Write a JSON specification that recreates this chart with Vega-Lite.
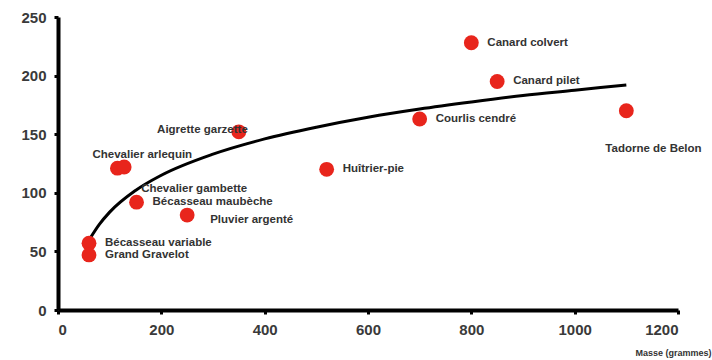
{
  "$schema": "https://vega.github.io/schema/vega-lite/v6.json",
  "width": 620,
  "height": 293,
  "autosize": {"type": "none"},
  "padding": {"left": 58, "top": 17, "right": 34, "bottom": 50},
  "background": "white",
  "config": {
    "view": {"stroke": null},
    "font": "Liberation Sans",
    "axis": {
      "grid": false,
      "domainColor": "black",
      "domainWidth": 4,
      "tickColor": "black",
      "tickWidth": 3,
      "tickSize": 4,
      "labelFont": "Liberation Sans",
      "labelFontSize": 15,
      "labelFontWeight": "bold",
      "labelColor": "#3a3a3a"
    }
  },
  "datasets": {
    "birds": [
      {"nom": "Canard colvert", "masse": 800, "valeur": 228, "pos": "right"},
      {"nom": "Canard pilet", "masse": 850, "valeur": 195, "pos": "right"},
      {"nom": "Courlis cendré", "masse": 700, "valeur": 163, "pos": "right"},
      {"nom": "Tadorne de Belon", "masse": 1100, "valeur": 170, "pos": "below"},
      {"nom": "Huîtrier-pie", "masse": 520, "valeur": 120, "pos": "right"},
      {"nom": "Aigrette garzette", "masse": 350, "valeur": 152, "pos": "left"},
      {"nom": "Chevalier arlequin", "masse": 115, "valeur": 121, "pos": "above"},
      {"nom": "Chevalier gambette", "masse": 128, "valeur": 122, "pos": "gambette"},
      {"nom": "Bécasseau maubèche", "masse": 152, "valeur": 92, "pos": "right"},
      {"nom": "Pluvier argenté", "masse": 250, "valeur": 81, "pos": "pluvier"},
      {"nom": "Bécasseau variable", "masse": 60, "valeur": 57, "pos": "right"},
      {"nom": "Grand Gravelot", "masse": 60, "valeur": 47, "pos": "right"}
    ],
    "courbe": [
      {"masse": 62, "valeur": 61},
      {"masse": 80, "valeur": 73},
      {"masse": 100, "valeur": 83.5},
      {"masse": 150, "valeur": 102},
      {"masse": 200, "valeur": 115},
      {"masse": 300, "valeur": 133},
      {"masse": 400, "valeur": 146},
      {"masse": 500, "valeur": 156},
      {"masse": 600, "valeur": 164.5},
      {"masse": 700, "valeur": 171.5},
      {"masse": 800, "valeur": 177.5},
      {"masse": 900, "valeur": 183},
      {"masse": 1000, "valeur": 187.5},
      {"masse": 1100, "valeur": 192}
    ]
  },
  "encoding": {
    "x": {
      "field": "masse",
      "type": "quantitative",
      "scale": {"domain": [0, 1200], "nice": false},
      "axis": {
        "values": [0, 200, 400, 600, 800, 1000, 1200],
        "format": "d",
        "labelPadding": 8,
        "title": "Masse (grammes)",
        "titleFontSize": 9,
        "titleFontWeight": "bold",
        "titleColor": "#333333",
        "titleX": 653,
        "titleY": 42,
        "titleAlign": "right",
        "titleBaseline": "middle"
      }
    },
    "y": {
      "field": "valeur",
      "type": "quantitative",
      "scale": {"domain": [0, 250], "nice": false},
      "axis": {"values": [0, 50, 100, 150, 200, 250], "format": "d", "labelPadding": 8, "title": null}
    }
  },
  "layer": [
    {
      "data": {"name": "courbe"},
      "mark": {"type": "line", "color": "black", "strokeWidth": 3, "interpolate": "monotone"}
    },
    {
      "data": {"name": "birds"},
      "mark": {"type": "circle", "color": "#e8251c", "opacity": 1, "size": 220}
    },
    {
      "data": {"name": "birds"},
      "transform": [{"filter": "datum.pos === 'right'"}],
      "mark": {"type": "text", "align": "left", "baseline": "middle", "dx": 16, "fontSize": 11.5, "fontWeight": "bold", "color": "#333333"},
      "encoding": {"text": {"field": "nom"}}
    },
    {
      "data": {"name": "birds"},
      "transform": [{"filter": "datum.pos === 'left'"}],
      "mark": {"type": "text", "align": "right", "baseline": "middle", "dx": 9, "dy": -2, "fontSize": 11.5, "fontWeight": "bold", "color": "#333333"},
      "encoding": {"text": {"field": "nom"}}
    },
    {
      "data": {"name": "birds"},
      "transform": [{"filter": "datum.pos === 'above'"}],
      "mark": {"type": "text", "align": "left", "baseline": "middle", "dx": -25, "dy": -13, "fontSize": 11.5, "fontWeight": "bold", "color": "#333333"},
      "encoding": {"text": {"field": "nom"}}
    },
    {
      "data": {"name": "birds"},
      "transform": [{"filter": "datum.pos === 'gambette'"}],
      "mark": {"type": "text", "align": "left", "baseline": "middle", "dx": 17, "dy": 22, "fontSize": 11.5, "fontWeight": "bold", "color": "#333333"},
      "encoding": {"text": {"field": "nom"}}
    },
    {
      "data": {"name": "birds"},
      "transform": [{"filter": "datum.pos === 'pluvier'"}],
      "mark": {"type": "text", "align": "left", "baseline": "middle", "dx": 23, "dy": 5, "fontSize": 11.5, "fontWeight": "bold", "color": "#333333"},
      "encoding": {"text": {"field": "nom"}}
    },
    {
      "data": {"name": "birds"},
      "transform": [{"filter": "datum.pos === 'below'"}],
      "mark": {"type": "text", "align": "left", "baseline": "middle", "dx": -21, "dy": 38, "fontSize": 11.5, "fontWeight": "bold", "color": "#333333"},
      "encoding": {"text": {"field": "nom"}}
    }
  ]
}
